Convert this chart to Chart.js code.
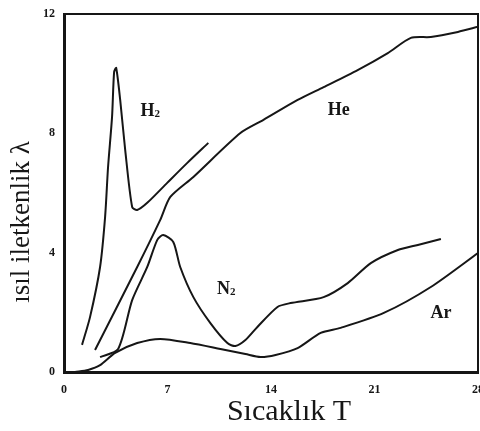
<!DOCTYPE html>
<html>
<head>
<meta charset="utf-8">
<script src="https://cdn.jsdelivr.net/npm/chart.js@4/dist/chart.umd.min.js"></script>
<style>
html, body { margin: 0; padding: 0; background: #fff; }
#wrap { width: 480px; height: 431px; }
</style>
</head>
<body>
<div id="wrap"><canvas id="myChart"></canvas></div>
<script>
// axis ticks
var xTicks = [0, 7, 14, 21, 28];
var yTicks = [0, 4, 8, 12];

// H2 : temperature / conductivity
var h2T = [1.22, 1.76, 2.44, 2.78, 2.98, 3.25, 3.39, 3.53, 3.80, 4.14, 4.61, 4.95, 5.63, 6.98, 8.34, 9.76];
var h2L = [0.91, 1.84, 3.52, 5.20, 6.87, 8.55, 10.06, 10.19, 9.12, 7.44, 5.53, 5.43, 5.67, 6.34, 7.01, 7.68];

// He
var heT = [2.10, 4.95, 6.51, 7.19, 8.75, 11.93, 13.49, 15.80, 17.56, 19.86, 21.90, 23.46, 24.81, 26.64, 28.0];
var heL = [0.74, 3.52, 5.10, 5.87, 6.54, 8.01, 8.45, 9.12, 9.55, 10.12, 10.69, 11.20, 11.23, 11.40, 11.57];

// N2
var n2T = [2.44, 3.66, 4.61, 5.63, 6.31, 6.71, 7.39, 7.86, 8.75, 9.90, 11.05, 11.59, 12.27, 13.08, 14.44, 15.32, 17.56, 19.19, 20.75, 22.58, 23.93, 25.49];
var n2L = [0.50, 0.77, 2.41, 3.52, 4.43, 4.59, 4.36, 3.52, 2.51, 1.64, 0.97, 0.87, 1.07, 1.51, 2.18, 2.31, 2.51, 2.98, 3.65, 4.09, 4.26, 4.46];

// Ar
var arT = [0.75, 1.63, 2.44, 3.46, 4.95, 6.51, 8.54, 10.58, 12.27, 13.29, 14.31, 15.80, 17.36, 18.71, 21.63, 24.81, 28.0];
var arL = [0.00, 0.07, 0.23, 0.64, 0.97, 1.11, 0.97, 0.77, 0.60, 0.50, 0.57, 0.80, 1.31, 1.48, 1.98, 2.85, 3.99];

// curve names (base, subscript) and where they sit
var gasNames = [['H', '2'], ['He', ''], ['N', '2'], ['Ar', '']];
var nameT = [5.83, 18.58, 10.98, 25.5];
var nameL = [8.75, 8.78, 2.78, 1.95];

var xTitle = 'Sıcaklık T';
var yTitle = 'ısıl iletkenlik λ';

var ink = '#161616';
var serif = "'Liberation Serif', 'DejaVu Serif', serif";

function pts(xs, ys) {
    return xs.map(function (x, i) { return { x: x, y: ys[i] }; });
}

function curve(label, xs, ys) {
    return {
        label: label,
        data: pts(xs, ys),
        borderColor: ink,
        borderWidth: 2,
        pointRadius: 0,
        tension: 0.25,
        fill: false
    };
}

var decor = {
    id: 'decor',
    afterDraw: function (chart) {
        var ctx = chart.ctx;
        var a = chart.chartArea;
        var sx = chart.scales.x, sy = chart.scales.y;
        ctx.save();
        // top and right frame
        ctx.strokeStyle = ink;
        ctx.lineWidth = 2;
        ctx.beginPath();
        ctx.moveTo(a.left, a.top);
        ctx.lineTo(a.right, a.top);
        ctx.lineTo(a.right, a.bottom);
        ctx.stroke();

        // curve names
        ctx.fillStyle = ink;
        ctx.textBaseline = 'middle';
        gasNames.forEach(function (n, i) {
            var px = sx.getPixelForValue(nameT[i]);
            var py = sy.getPixelForValue(nameL[i]);
            ctx.font = 'bold 18px ' + serif;
            var w1 = ctx.measureText(n[0]).width;
            ctx.font = 'bold 11px ' + serif;
            var w2 = n[1] ? ctx.measureText(n[1]).width : 0;
            var x0 = px - (w1 + w2) / 2;
            ctx.font = 'bold 18px ' + serif;
            ctx.textAlign = 'left';
            ctx.fillText(n[0], x0, py);
            if (n[1]) {
                ctx.font = 'bold 11px ' + serif;
                ctx.fillText(n[1], x0 + w1, py + 3);
            }
        });

        // axis titles
        ctx.textAlign = 'center';
        ctx.font = '30px ' + serif;
        ctx.fillText(xTitle, 289, 412);
        ctx.translate(22, 222);
        ctx.rotate(-Math.PI / 2);
        ctx.font = '27px ' + serif;
        ctx.fillText(yTitle, 0, 0);
        ctx.restore();
    }
};

var ctx = document.getElementById('myChart').getContext('2d');

var myChart = new Chart(ctx, {
    type: 'line',
    data: {
        datasets: [
            curve('H2', h2T, h2L),
            curve('He', heT, heL),
            curve('N2', n2T, n2L),
            curve('Ar', arT, arL)
        ]
    },
    options: {
        responsive: true,
        maintainAspectRatio: false,
        animation: false,
        layout: { padding: { top: 14, right: 2, left: 0, bottom: 0 } },
        plugins: {
            legend: { display: false },
            tooltip: { enabled: false }
        },
        scales: {
            x: {
                type: 'linear',
                min: 0,
                max: 28,
                afterBuildTicks: function (s) { s.ticks = xTicks.map(function (v) { return { value: v }; }); },
                afterFit: function (s) { s.height = 59; s.paddingLeft = 0; s.paddingRight = 0; },
                grid: { display: false, drawTicks: false },
                border: { display: true, color: ink, width: 3 },
                ticks: { color: ink, padding: 11, maxRotation: 0, font: { family: serif, size: 12, weight: 'bold' } }
            },
            y: {
                min: 0,
                max: 12,
                afterBuildTicks: function (s) { s.ticks = yTicks.map(function (v) { return { value: v }; }); },
                afterFit: function (s) { s.width = 64; s.paddingTop = 0; s.paddingBottom = 0; },
                grid: { display: false, drawTicks: false },
                border: { display: true, color: ink, width: 3 },
                ticks: { color: ink, padding: 9, font: { family: serif, size: 12, weight: 'bold' } }
            }
        }
    },
    plugins: [decor]
});
</script>
</body>
</html>
